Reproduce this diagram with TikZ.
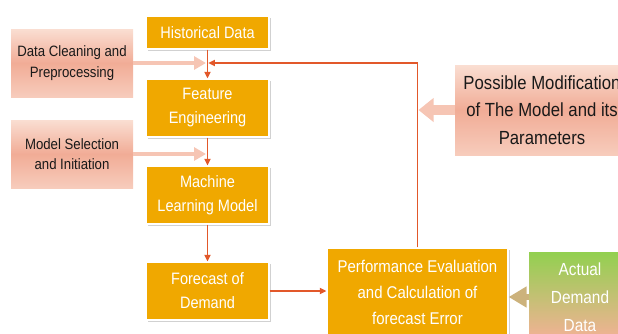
\documentclass[tikz,border=0pt]{standalone}
\usepackage{fontspec}
\setmainfont{Liberation Sans}[FakeStretch=0.88]
\usetikzlibrary{arrows.meta,shadows}

\definecolor{boxorange}{RGB}{240,168,0}
\definecolor{flowred}{RGB}{226,88,42}
\definecolor{pinklight}{RGB}{250,222,210}
\definecolor{pinkmid}{RGB}{241,172,150}
\definecolor{pinkbottom}{RGB}{247,204,188}
\definecolor{pinkarrow}{RGB}{246,197,180}
\definecolor{greentop}{RGB}{146,208,80}
\definecolor{salmonbottom}{RGB}{246,176,152}
\definecolor{tanarrow}{RGB}{204,178,124}
\definecolor{darktext}{RGB}{25,25,25}

\tikzset{
  procbox/.style={fill=boxorange, draw=white, line width=1.2pt, text=white,
    align=center, inner sep=0pt, font=\fontsize{16.5}{24}\selectfont,
    drop shadow={shadow xshift=1.5pt, shadow yshift=-1.5pt, fill=black, opacity=0.18}},
  notebox/.style={shading=axis, top color=pinklight, bottom color=pinkbottom,
    middle color=pinkmid, text=darktext, align=center, inner sep=0pt},
  flow/.style={draw=flowred, line width=1.8pt, -{Triangle[length=6.5pt,width=6pt]}},
  hint/.style={draw=pinkarrow, line width=4.5pt, -{Triangle[length=12pt,width=13pt]}},
}

\begin{document}
\begin{tikzpicture}[x=1pt,y=-1pt]
  \useasboundingbox (0,0) rectangle (618,333);
  \clip (0,0) rectangle (618,333);

  % main process chain
  \node[procbox, minimum width=123pt, minimum height=33pt] (hist) at (207.5,32.5) {Historical Data};
  \node[procbox, minimum width=123pt, minimum height=58pt] (feat) at (207.5,108) {Feature\\Engineering};
  \node[procbox, minimum width=123pt, minimum height=58pt] (ml) at (207.5,195) {Machine\\Learning Model};
  \node[procbox, minimum width=123pt, minimum height=58pt] (fc) at (207.5,291) {Forecast of\\Demand};
  \node[procbox, minimum width=181pt, minimum height=88pt, font=\fontsize{17}{26}\selectfont]
    (pe) at (417.5,292) {Performance Evaluation\\and Calculation of\\forecast Error};

  % side inputs
  \node[notebox, minimum width=122pt, minimum height=68pt, font=\fontsize{15}{20.5}\selectfont]
    (dc) at (72,63) {Data Cleaning and\\Preprocessing};
  \node[notebox, minimum width=122pt, minimum height=68pt, font=\fontsize{15}{20.5}\selectfont]
    (msel) at (72,154) {Model Selection\\and Initiation};
  \node[notebox, minimum width=174pt, minimum height=90pt, font=\fontsize{19}{27.5}\selectfont]
    (pm) at (542,110) {Possible Modification\\of The Model and its\\Parameters};
  \node[shading=axis, top color=greentop, bottom color=salmonbottom, text=white, align=center,
    inner sep=0pt, minimum width=102pt, minimum height=90pt, font=\fontsize{17.5}{28}\selectfont]
    (act) at (580,297) {Actual\\Demand\\Data};

  % junction points on the main chain
  \coordinate (j1) at (207.5,63);
  \coordinate (j2) at (207.5,154);

  % side input arrows
  \draw[hint, shorten >=1.5pt] (dc.east) -- (j1);
  \draw[hint, shorten >=1.5pt] (msel.east) -- (j2);
  \draw[draw=pinkarrow, line width=10pt, -{Triangle[length=15pt,width=23pt]}, shorten >=1pt]
    (pm.west) -- (pm.west -| pe.north);
  \draw[draw=tanarrow, line width=6pt, -{Triangle[length=18pt,width=20pt]}]
    (act.west) -- (act.west -| pe.east);

  % flow connectors
  \draw[flow] (hist.south) -- (feat.north);
  \draw[flow] (feat.south) -- (ml.north);
  \draw[flow] (ml.south) -- (fc.north);
  \draw[flow] (fc.east) -- (fc.east -| pe.west);
  \draw[flow, shorten >=0.8pt] (pe.north) |- (j1);
\end{tikzpicture}
\end{document}
